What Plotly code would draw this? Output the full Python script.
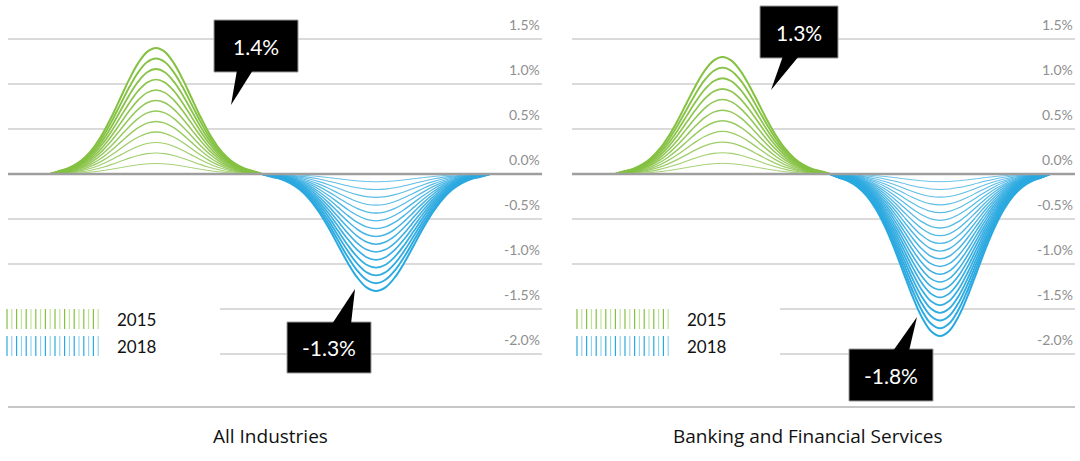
import plotly.graph_objects as go

# values
panels = ["All Industries", "Banking and Financial Services"]
green_peak = [1.4, 1.3]      # 2015
blue_peak = [-1.3, -1.8]     # 2018
green_layers = [12, 11]
blue_layers = [15, 21]
years = ["2015", "2018"]
ticks = [1.5, 1.0, 0.5, 0.0, -0.5, -1.0, -1.5, -2.0]
tick_labels = ["1.5%", "1.0%", "0.5%", "0.0%", "-0.5%", "-1.0%", "-1.5%", "-2.0%"]

# bell profile of the outer line, sampled across its width (0..1)
profile_t = [i / 24 for i in range(25)]
profile = [0.0, 0.023, 0.044, 0.080, 0.135, 0.216, 0.325, 0.458, 0.607, 0.755, 0.882, 0.969, 1.0,
           0.969, 0.882, 0.755, 0.607, 0.458, 0.325, 0.216, 0.135, 0.080, 0.044, 0.023, 0.0]

GREEN = "#84c141"
BLUE = "#2aa9e0"
W, H = 1080, 461
ZERO_PX, PX_PER_PCT = 174, 90


def yv(px):
    return (ZERO_PX - px) / PX_PER_PCT


# layout of each panel (x in page pixels)
green_span = [(50, 262), (615, 830)]
blue_span = [(262, 490), (830, 1050)]
grid_x = [(8, 542), (572, 1075)]
grid_x_low = [220, 780]
title_x = [270, 808]
legend_x = [7, 577]

fig = go.Figure()


def add_bell(x0, x1, peak, n, color):
    xs = [x0 + (x1 - x0) * t for t in profile_t]
    fig.add_trace(go.Scatter(x=xs, y=[peak * p for p in profile], mode="lines",
                             line=dict(width=0, shape="spline"), fill="tozeroy",
                             fillcolor="white", hoverinfo="skip", showlegend=False))
    for k in range(1, n + 1):
        f = k / n
        fig.add_trace(go.Scatter(x=xs, y=[peak * f * p for p in profile], mode="lines",
                                 line=dict(color=color, width=0.9 + 1.1 * f, shape="spline"),
                                 opacity=0.7 + 0.3 * f, hoverinfo="skip", showlegend=False))


shapes = []
annotations = []
for i in range(2):
    for t, lab in zip(ticks, tick_labels):
        gx0 = grid_x_low[i] if t < -1.0 else grid_x[i][0]
        if t != 0:
            shapes.append(dict(type="line", xref="x", yref="y", x0=gx0, x1=grid_x[i][1], y0=t, y1=t,
                               line=dict(color="#b5b5b5", width=1), layer="below"))
        annotations.append(dict(x=grid_x[i][1], y=t, xref="x", yref="y", text=lab, showarrow=False,
                                xanchor="right", yanchor="middle", yshift=15,
                                font=dict(size=14, color="#8f8f8f", family="Lato")))
    shapes.append(dict(type="line", xref="x", yref="y", x0=grid_x[i][0], x1=grid_x[i][1], y0=0, y1=0,
                       line=dict(color="#9e9e9e", width=2.5), layer="above"))
    add_bell(*green_span[i], green_peak[i], green_layers[i], GREEN)
    add_bell(*blue_span[i], blue_peak[i], blue_layers[i], BLUE)
    annotations.append(dict(x=title_x[i], y=yv(436), xref="x", yref="y", text=panels[i], showarrow=False,
                            font=dict(size=19, color="#111111", family="Open Sans")))
    # legend
    for r, (col, light, yr) in enumerate([(GREEN, "#c3e29f", years[0]), (BLUE, "#93d3f0", years[1])]):
        top = 309 + r * 27
        for j in range(20):
            lx = legend_x[i] + j * 4.8
            shapes.append(dict(type="line", xref="x", yref="y", x0=lx, x1=lx, y0=yv(top), y1=yv(top + 20),
                               line=dict(color=col if j % 2 == 0 else light, width=1.2)))
        annotations.append(dict(x=legend_x[i] + 108, y=yv(top + 10), xref="x", yref="y", text=yr,
                                showarrow=False, xanchor="left",
                                font=dict(size=17, color="#111111", family="Lato")))

shapes.append(dict(type="line", xref="x", yref="y", x0=8, x1=1075, y0=yv(407), y1=yv(407),
                   line=dict(color="#b5b5b5", width=1.5)))

# callouts: box (x0, x1, top, bottom), pointer base (xa, xb), tip (x, y)
callouts = [
    (green_peak[0], (214, 298, 20, 72), (237, 253), (231, 105)),
    (blue_peak[0], (287, 371, 322, 373), (332, 351), (355, 289)),
    (green_peak[1], (760, 838, 6, 58), (783, 799), (771, 90)),
    (blue_peak[1], (849, 933, 349, 401), (893, 909), (917, 317)),
]
for val, (bx0, bx1, bt, bb), (xa, xb), (tx, ty) in callouts:
    shapes.append(dict(type="rect", xref="x", yref="y", x0=bx0, x1=bx1, y0=yv(bb), y1=yv(bt),
                       fillcolor="black", line=dict(color="#9a9a9a", width=1)))
    by = bb if ty > bb else bt
    by_in = by - 2 if ty > bb else by + 2
    shapes.append(dict(type="path", xref="x", yref="y",
                       path=f"M {xa},{yv(by_in)} L {xb},{yv(by_in)} L {tx},{yv(ty)} Z",
                       fillcolor="black", line=dict(width=0)))
    annotations.append(dict(x=(bx0 + bx1) / 2, y=yv((bt + bb) / 2), xref="x", yref="y",
                            text=f"{val:.1f}%", showarrow=False,
                            font=dict(size=21, color="white", family="Lato")))

fig.update_layout(
    width=W, height=H,
    margin=dict(l=0, r=0, t=0, b=0),
    paper_bgcolor="white", plot_bgcolor="white",
    xaxis=dict(range=[0, W], visible=False, fixedrange=True),
    yaxis=dict(range=[yv(H), yv(0)], visible=False, fixedrange=True),
    shapes=shapes, annotations=annotations, showlegend=False,
)

fig.write_html("out.html", config={"displayModeBar": False},
               post_script="document.body.style.margin='0';")
